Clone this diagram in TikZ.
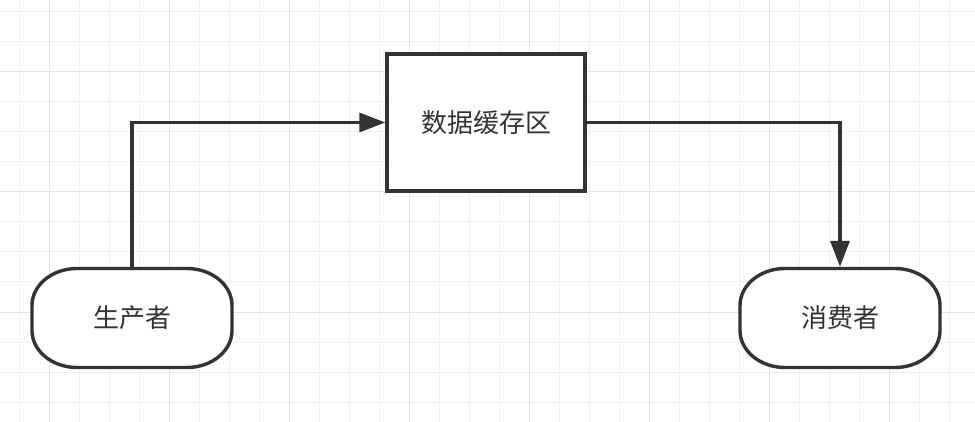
\documentclass[tikz,border=0pt]{standalone}
\usepackage{fontspec}
\newfontfamily\cjk{Noto Sans CJK SC}
\usetikzlibrary{arrows.meta}
\definecolor{ink}{HTML}{333333}
\definecolor{gridminor}{HTML}{F0F0F0}
\definecolor{gridmajor}{HTML}{E4E4E4}
\tikzset{
  lbl/.style={inner sep=0pt, outer sep=1.7pt, text=ink, font=\cjk\fontsize{26}{30}\selectfont,
    execute at begin node={\lower2pt\hbox\bgroup}, execute at end node={\egroup}},
  box/.style={lbl, draw=ink, line width=3.4pt, fill=white, minimum width=198pt, minimum height=137pt},
  term/.style={lbl, minimum width=200pt, minimum height=99pt},
  outline/.style={draw=ink, line width=3.4pt, fill=white},
  conn/.style={draw=ink, line width=3.4pt, -{Triangle[length=26pt,width=19pt]}},
  gminor/.style={draw=gridminor, line width=1pt},
  gmajor/.style={draw=gridmajor, line width=1pt}
}
\newcommand\termshape[2]{%
  \path[outline] ({#1-55},{#2-49.5}) -- ({#1+55},{#2-49.5})
    arc[start angle=90,end angle=0,x radius=45pt,y radius=37pt]
    -- ({#1+100},{#2+12.5})
    arc[start angle=0,end angle=-90,x radius=45pt,y radius=37pt]
    -- ({#1-55},{#2+49.5})
    arc[start angle=270,end angle=180,x radius=45pt,y radius=37pt]
    -- ({#1-100},{#2-12.5})
    arc[start angle=180,end angle=90,x radius=45pt,y radius=37pt]
    -- cycle;}
\begin{document}
\begin{tikzpicture}[x=1pt,y=-1pt]
\useasboundingbox (0,0) rectangle (975,422);
\fill[white] (0,0) rectangle (975,422);
\foreach \xx in {19,49,...,949} \draw[gminor] (\xx,0) -- (\xx,422);
\foreach \yy in {12,42,...,402} \draw[gminor] (0,\yy) -- (975,\yy);
\foreach \xx in {49,169,...,889} \draw[gmajor] (\xx,0) -- (\xx,422);
\foreach \yy in {72,192,312} \draw[gmajor] (0,\yy) -- (975,\yy);
\termshape{132}{318}
\termshape{840}{318}
\node[box] (buf) at (486,122.5) {数据缓存区};
\node[term] (prod) at (132,318) {生产者};
\node[term] (cons) at (840,318) {消费者};
\draw[conn] (prod.north) |- (buf.west);
\draw[conn] (buf.east) -| (cons.north);
\end{tikzpicture}
\end{document}
